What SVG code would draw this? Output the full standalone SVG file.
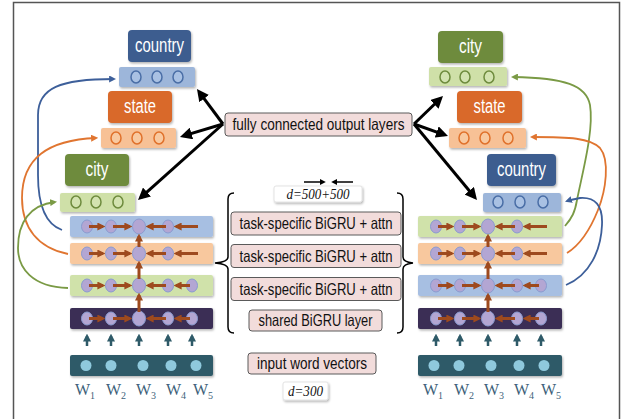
<svg xmlns="http://www.w3.org/2000/svg" xmlns:xlink="http://www.w3.org/1999/xlink" width="621" height="419" viewBox="0 0 621 419">
<style>
.frame{stroke:#555;stroke-width:1.5;fill:none}
.hd{font-family:"Liberation Sans",Arial,sans-serif;font-size:20px;fill:#fff;text-anchor:middle}
.box{fill:#f2dcdb;stroke:#5a5a5a;stroke-width:1}
.wbox{fill:#fff;stroke:#ddd;stroke-width:0.8}
.bt{font-family:"Liberation Sans",Arial,sans-serif;font-size:16.5px;fill:#111;text-anchor:middle}
.dt{font-family:"Liberation Serif",serif;font-style:italic;font-size:15px;fill:#111;text-anchor:middle}
.w{font-family:"Liberation Serif",serif;font-size:16px;fill:#3e5f7a}
.w tspan{font-size:10px}
.sh{filter:url(#shadow)}
.br{stroke:#9e4a1e;stroke-width:3;fill:none;marker-end:url(#mBrown)}
.tl{stroke:#2e5a68;stroke-width:2.5;fill:none;marker-end:url(#mTeal)}
.blk{stroke:#000;stroke-width:3;fill:none;marker-end:url(#mBlack)}
.cb{stroke:#3d5f9a;stroke-width:1.8;fill:none;marker-end:url(#mBlue)}
.co{stroke:#e07530;stroke-width:1.8;fill:none;marker-end:url(#mOrange)}
.cg{stroke:#7a9a45;stroke-width:1.8;fill:none;marker-end:url(#mGreen)}
.dar{stroke:#000;stroke-width:1.5;fill:none;marker-end:url(#mSmall)}
.brk{stroke:#000;stroke-width:1.5;fill:none}
.pc{fill:#b3a6d3;stroke:#8a9bd0;stroke-width:1}
.ic{fill:#8fc9dd}
.ob{stroke:#4a6ea6;stroke-width:1.5;fill:#a9c1e3}
.oo{stroke:#e0712b;stroke-width:1.5;fill:#f8c9a0}
.og{stroke:#6e8b3d;stroke-width:1.5;fill:#d3e3b0}
</style>
<defs>
<filter id="shadow" x="-10%" y="-20%" width="130%" height="160%">
<feDropShadow dx="1" dy="1.5" stdDeviation="1" flood-color="#000" flood-opacity="0.3"/>
</filter>
<marker id="mBrown" viewBox="0 0 10 10" refX="7" refY="5" markerWidth="8" markerHeight="8" markerUnits="userSpaceOnUse" orient="auto"><path d="M0,0 L10,5 L0,10 z" fill="#9e4a1e"/></marker>
<marker id="mTeal" viewBox="0 0 10 10" refX="7" refY="5" markerWidth="8" markerHeight="8" markerUnits="userSpaceOnUse" orient="auto"><path d="M0,0 L10,5 L0,10 z" fill="#2e5a68"/></marker>
<marker id="mBlack" viewBox="0 0 10 10" refX="7" refY="5" markerWidth="12" markerHeight="12" markerUnits="userSpaceOnUse" orient="auto"><path d="M0,0 L10,5 L0,10 z" fill="#000"/></marker>
<marker id="mBlue" viewBox="0 0 10 10" refX="7" refY="5" markerWidth="7" markerHeight="7" markerUnits="userSpaceOnUse" orient="auto"><path d="M0,0 L10,5 L0,10 z" fill="#3d5f9a"/></marker>
<marker id="mOrange" viewBox="0 0 10 10" refX="7" refY="5" markerWidth="7" markerHeight="7" markerUnits="userSpaceOnUse" orient="auto"><path d="M0,0 L10,5 L0,10 z" fill="#e07530"/></marker>
<marker id="mGreen" viewBox="0 0 10 10" refX="7" refY="5" markerWidth="7" markerHeight="7" markerUnits="userSpaceOnUse" orient="auto"><path d="M0,0 L10,5 L0,10 z" fill="#7a9a45"/></marker>
<marker id="mSmall" viewBox="0 0 10 10" refX="7" refY="5" markerWidth="6" markerHeight="6" markerUnits="userSpaceOnUse" orient="auto"><path d="M0,0 L10,5 L0,10 z" fill="#000"/></marker>
<g id="row5">
<ellipse class="pc" cx="17" cy="0" rx="5.5" ry="6.5"/>
<ellipse class="pc" cx="41" cy="0" rx="5.5" ry="6.5"/>
<ellipse class="pc" cx="69" cy="0" rx="6.5" ry="7.5"/>
<ellipse class="pc" cx="98" cy="0" rx="5.5" ry="6.5"/>
<ellipse class="pc" cx="122" cy="0" rx="5.5" ry="6.5"/>
<path class="br" d="M19 0 H33"/>
<path class="br" d="M43 0 H60"/>
<path class="br" d="M96 0 H78"/>
<path class="br" d="M120 0 H106"/>
</g>
<g id="row4">
<ellipse class="pc" cx="17" cy="0" rx="5.5" ry="6.5"/>
<ellipse class="pc" cx="41" cy="0" rx="5.5" ry="6.5"/>
<ellipse class="pc" cx="69" cy="0" rx="6.5" ry="7.5"/>
<ellipse class="pc" cx="98" cy="0" rx="5.5" ry="6.5"/>
<path class="br" d="M19 0 H33"/>
<path class="br" d="M43 0 H60"/>
<path class="br" d="M96 0 H78"/>
<path class="br" d="M128 0 H106"/>
</g>
<g id="inrow">
<circle class="ic" cx="16" cy="0" r="5.5"/>
<circle class="ic" cx="41" cy="0" r="5.5"/>
<circle class="ic" cx="73" cy="0" r="5.5"/>
<circle class="ic" cx="101" cy="0" r="5.5"/>
<circle class="ic" cx="126" cy="0" r="5.5"/>
</g>
<g id="uparrows">
<path class="tl" d="M17 346 V336"/>
<path class="tl" d="M41 346 V336"/>
<path class="tl" d="M69 346 V336"/>
<path class="tl" d="M98 346 V336"/>
<path class="tl" d="M122 346 V336"/>
<path class="br" d="M69 312 V295"/>
<path class="br" d="M69 279 V263"/>
<path class="br" d="M69 247 V236"/>
</g>
<g id="wlabels">
<text class="w" x="5" y="395">W<tspan dy="4">1</tspan></text>
<text class="w" x="36" y="395">W<tspan dy="4">2</tspan></text>
<text class="w" x="66" y="395">W<tspan dy="4">3</tspan></text>
<text class="w" x="96" y="395">W<tspan dy="4">4</tspan></text>
<text class="w" x="123" y="395">W<tspan dy="4">5</tspan></text>
</g>
</defs>

<rect width="621" height="419" fill="#fff"/>
<path class="frame" d="M13.5 419 V2.5 H619.5 V419"/>

<!-- Left column outputs -->
<g id="L-country-label"><rect class="sh" x="128" y="30" width="63" height="32" rx="4" fill="#3d5d8f"/><text class="hd" x="159.5" y="52" textLength="49" lengthAdjust="spacingAndGlyphs">country</text></g>
<g id="L-country-bar"><rect class="sh" x="119" y="67" width="76" height="20" rx="2" fill="#9db6da"/><ellipse class="ob" cx="136" cy="77" rx="5" ry="6"/><ellipse class="ob" cx="157" cy="77" rx="5" ry="6"/><ellipse class="ob" cx="178" cy="77" rx="5" ry="6"/></g>
<g id="L-state-label"><rect class="sh" x="108" y="91" width="64" height="32" rx="4" fill="#d9692a"/><text class="hd" x="140" y="113" textLength="32" lengthAdjust="spacingAndGlyphs">state</text></g>
<g id="L-state-bar"><rect class="sh" x="101" y="128" width="75" height="20" rx="2" fill="#f7c196"/><ellipse class="oo" cx="116" cy="138" rx="5" ry="6"/><ellipse class="oo" cx="137" cy="138" rx="5" ry="6"/><ellipse class="oo" cx="159" cy="138" rx="5" ry="6"/></g>
<g id="L-city-label"><rect class="sh" x="65" y="154" width="64" height="32" rx="4" fill="#6e8b3d"/><text class="hd" x="97" y="176" textLength="23" lengthAdjust="spacingAndGlyphs">city</text></g>
<g id="L-city-bar"><rect class="sh" x="60" y="193" width="75" height="19" rx="2" fill="#cfe0a8"/><ellipse class="og" cx="76" cy="202" rx="5" ry="6"/><ellipse class="og" cx="96" cy="202" rx="5" ry="6"/><ellipse class="og" cx="118" cy="202" rx="5" ry="6"/></g>

<!-- Left stack -->
<g id="L-layer-country"><rect class="sh" x="70" y="216" width="143" height="21" rx="2" fill="#a7bfe2"/><use href="#row4" x="70" y="226.5"/></g>
<g id="L-layer-state"><rect class="sh" x="70" y="243" width="143" height="21" rx="2" fill="#f8c89e"/><use href="#row4" x="70" y="253.5"/></g>
<g id="L-layer-city"><rect class="sh" x="70" y="275" width="143" height="21" rx="2" fill="#d0e2aa"/><use href="#row5" x="70" y="285.5"/></g>
<g id="L-shared"><rect class="sh" x="70" y="308" width="143" height="21" rx="2" fill="#3a2d55"/><use href="#row5" x="70" y="318.5"/></g>
<g id="L-input"><rect class="sh" x="70" y="355" width="143" height="21" rx="2" fill="#2e5a68"/><use href="#inrow" x="70" y="365.5"/></g>
<g id="L-words"><use href="#wlabels" x="70" y="0"/></g>

<!-- Right column outputs -->
<g id="R-city-label"><rect class="sh" x="438" y="31" width="65" height="32" rx="4" fill="#6e8b3d"/><text class="hd" x="470.5" y="53" textLength="23" lengthAdjust="spacingAndGlyphs">city</text></g>
<g id="R-city-bar"><rect class="sh" x="429" y="67" width="78" height="19" rx="2" fill="#cfe0a8"/><ellipse class="og" cx="445" cy="77" rx="5" ry="6"/><ellipse class="og" cx="465" cy="77" rx="5" ry="6"/><ellipse class="og" cx="489" cy="77" rx="5" ry="6"/></g>
<g id="R-state-label"><rect class="sh" x="457" y="91" width="65" height="32" rx="4" fill="#d9692a"/><text class="hd" x="489.5" y="113" textLength="32" lengthAdjust="spacingAndGlyphs">state</text></g>
<g id="R-state-bar"><rect class="sh" x="449" y="128" width="77" height="20" rx="2" fill="#f7c196"/><ellipse class="oo" cx="464" cy="138" rx="5" ry="6"/><ellipse class="oo" cx="485" cy="138" rx="5" ry="6"/><ellipse class="oo" cx="508" cy="138" rx="5" ry="6"/></g>
<g id="R-country-label"><rect class="sh" x="487" y="154" width="69" height="32" rx="4" fill="#3d5d8f"/><text class="hd" x="521.5" y="176" textLength="49" lengthAdjust="spacingAndGlyphs">country</text></g>
<g id="R-country-bar"><rect class="sh" x="483" y="193" width="78" height="19" rx="2" fill="#9db6da"/><ellipse class="ob" cx="498" cy="202" rx="5" ry="6"/><ellipse class="ob" cx="520" cy="202" rx="5" ry="6"/><ellipse class="ob" cx="543" cy="202" rx="5" ry="6"/></g>

<!-- Right stack -->
<g id="R-layer-city"><rect class="sh" x="418" y="216" width="144" height="21" rx="2" fill="#d0e2aa"/><use href="#row4" x="419" y="226.5"/></g>
<g id="R-layer-state"><rect class="sh" x="418" y="243" width="144" height="21" rx="2" fill="#f8c89e"/><use href="#row4" x="419" y="253.5"/></g>
<g id="R-layer-country"><rect class="sh" x="418" y="275" width="144" height="21" rx="2" fill="#a7bfe2"/><use href="#row5" x="419" y="285.5"/></g>
<g id="R-shared"><rect class="sh" x="418" y="308" width="144" height="21" rx="2" fill="#3a2d55"/><use href="#row5" x="419" y="318.5"/></g>
<g id="R-input"><rect class="sh" x="418" y="355" width="144" height="21" rx="2" fill="#2e5a68"/><use href="#inrow" x="418" y="365.5"/></g>
<g id="R-words"><use href="#wlabels" x="418" y="0"/></g>

<!-- Middle labels -->
<g id="fc-label"><rect class="box" x="225" y="113" width="187" height="23" rx="3"/><text class="bt" x="318.5" y="130" textLength="172" lengthAdjust="spacingAndGlyphs">fully connected output layers</text></g>
<g id="d1000"><rect class="wbox sh" x="274" y="186" width="88" height="16" rx="2"/><text class="dt" x="318" y="199" textLength="63" lengthAdjust="spacingAndGlyphs">d=500+500</text>
<path class="dar" d="M304 182 H324"/><path class="dar" d="M353 182 H333"/></g>
<g id="task1"><rect class="box" x="231" y="212" width="170" height="23" rx="3"/><text class="bt" x="316" y="229" textLength="153" lengthAdjust="spacingAndGlyphs">task-specific BiGRU + attn</text></g>
<g id="task2"><rect class="box" x="231" y="244.5" width="170" height="23" rx="3"/><text class="bt" x="316" y="261.5" textLength="153" lengthAdjust="spacingAndGlyphs">task-specific BiGRU + attn</text></g>
<g id="task3"><rect class="box" x="231" y="277.5" width="170" height="23" rx="3"/><text class="bt" x="316" y="294.5" textLength="153" lengthAdjust="spacingAndGlyphs">task-specific BiGRU + attn</text></g>
<g id="shared-label"><rect class="box" x="249" y="310" width="133" height="21" rx="3"/><text class="bt" x="315.5" y="326" textLength="114" lengthAdjust="spacingAndGlyphs">shared BiGRU layer</text></g>
<g id="input-label"><rect class="box" x="248" y="353" width="128" height="21" rx="3"/><text class="bt" x="312" y="369" textLength="110" lengthAdjust="spacingAndGlyphs">input word vectors</text></g>
<g id="d300"><rect class="wbox sh" x="283" y="382" width="45" height="18" rx="2"/><text class="dt" x="305.5" y="396" textLength="35" lengthAdjust="spacingAndGlyphs">d=300</text></g>
<g id="brackets">
<path class="brk" d="M234 193 Q228 193 228 199 V257 Q228 262 215 263 Q228 264 228 269 V327 Q228 333 234 333"/>
<path class="brk" d="M397 193 Q403 193 403 199 V257 Q403 262 413 263 Q403 264 403 269 V327 Q403 333 397 333"/>
</g>

<!-- Connectors -->
<g id="connectors">
<path class="blk" d="M223 124 L199.1 91.9"/>
<path class="blk" d="M223 124 L183.4 135.9"/>
<path class="blk" d="M223 124 L140.7 197.6"/>
<path class="blk" d="M414 124 L440.4 98.5"/>
<path class="blk" d="M414 124 L444.6 134.8"/>
<path class="blk" d="M414 124 L474.7 197.2"/>
<use href="#uparrows" x="70" y="0"/>
<use href="#uparrows" x="419" y="0"/>
<path class="cb" d="M62 230 C45 224 38 205 38 175 L38 115 C38 88 60 79 114 79"/>
<path class="co" d="M68 254 C38 248 22 228 22 198 C22 158 48 140 96 138"/>
<path class="cg" d="M68 288 C32 287 18 268 18 248 C18 222 30 205 55 202"/>
<path class="cg" d="M565 226 C572 218 575 212 577 200 C583 170 594 130 590 105 C586 85 565 78 513 77"/>
<path class="co" d="M567 253 C580 245 590 230 598 210 C606 190 610 160 600 148 C590 138 570 137 532 137"/>
<path class="cb" d="M566 285 C590 275 601 250 602 225 C603 205 595 197 580 198 C575 199 570 200 567 201"/>
</g>
</svg>
